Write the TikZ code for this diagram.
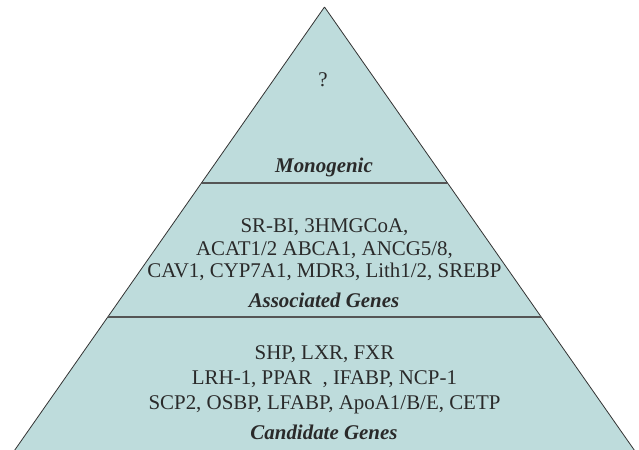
\documentclass[tikz,border=0pt]{standalone}
\usepackage{fontspec}
\setmainfont{Liberation Serif}
\definecolor{pyrfill}{HTML}{BEDCDC}
\definecolor{pyrline}{HTML}{333333}
\definecolor{tierline}{HTML}{555555}
\definecolor{genetext}{HTML}{2A2A2A}
\tikzset{
  genes/.style={align=center,text=genetext,inner sep=0pt,font=\fontsize{21}{22.5}\selectfont},
  level/.style={text=genetext,inner sep=0pt,font=\fontsize{21}{22}\selectfont\bfseries\itshape},
  tier/.style={draw=tierline,line width=1.8bp},
}
\begin{document}
\begin{tikzpicture}[line join=bevel,]
    %%
    \useasboundingbox (0bp,0bp) rectangle (639bp,450bp);
    \clip (0bp,0bp) rectangle (639bp,450bp);
    \coordinate (apex) at (324.5bp,443.0bp);
    \coordinate (bl) at (12.0bp,-4.0bp);
    \coordinate (br) at (637.0bp,-4.0bp);
    \coordinate (t1l) at (201.3bp,267.0bp);
    \coordinate (t1r) at (447.7bp,267.0bp);
    \coordinate (t2l) at (107.7bp,133.3bp);
    \coordinate (t2r) at (541.3bp,133.3bp);
    \filldraw [fill=pyrfill,draw=pyrline,line width=0.8bp] (apex) -- (br) -- (bl) -- cycle;
    \draw [tier] (t1l) -- (t1r);
    \draw [tier] (t2l) -- (t2r);
    %%
    \node (unknown) at (323.0bp,370.0bp) [genes] {?};
    \node (mono) at (324.0bp,283.0bp) [level] {Monogenic};
    \node (assoc) at (324.5bp,200.0bp) [genes] {SR-BI, 3HMGCoA,\\ACAT1/2 ABCA1, ANCG5/8,\\CAV1, CYP7A1, MDR3, Lith1/2, SREBP};
    \node (assoctitle) at (324.0bp,150.0bp) [level] {Associated Genes};
    \node (cand) at (324.5bp,70.0bp) [genes,font=\fontsize{21}{25}\selectfont] {SHP, LXR, FXR\\LRH-1, PPAR\ \ , IFABP, NCP-1\\SCP2, OSBP, LFABP, ApoA1/B/E, CETP};
    \node (candtitle) at (324.0bp,18.0bp) [level] {Candidate Genes};
    %
\end{tikzpicture}
\end{document}
